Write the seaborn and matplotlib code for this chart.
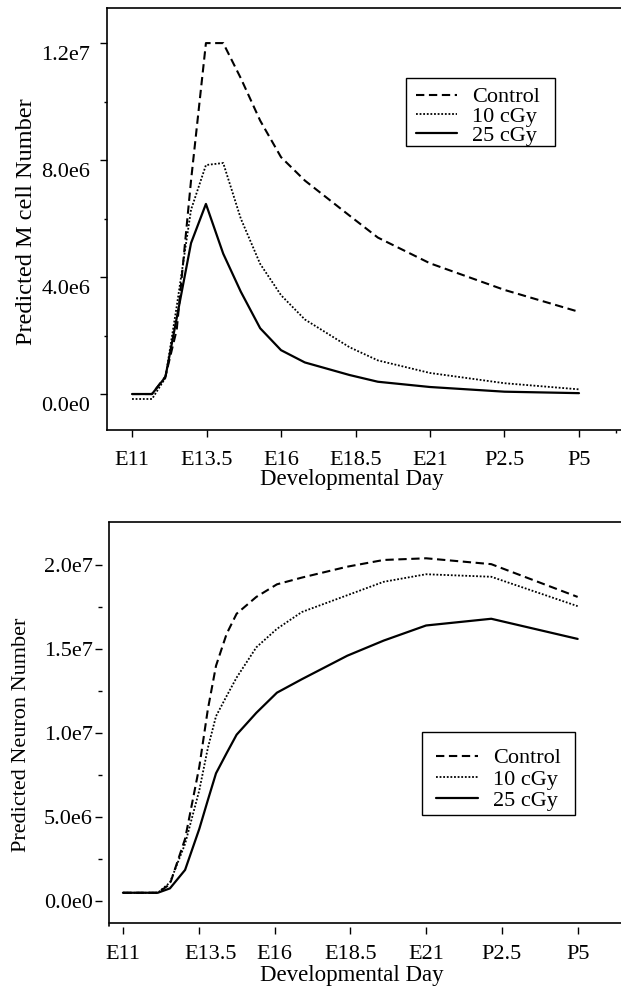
import pandas as pd
import seaborn as sns
import matplotlib.pyplot as plt
from matplotlib.lines import Line2D
from matplotlib.patches import Rectangle
from matplotlib.transforms import ScaledTranslation

# values, in millions of cells
mcell_days = [11, 11.67, 12.12, 12.5, 12.98, 13.48, 14.06, 14.65, 15.3, 16.0, 16.8, 18.3, 19.25, 21.0, 23.5, 26.0]
mcell_control = [0, 0, 0.6, 2.2, 7.3, 12.0, 12.0, 10.8, 9.35, 8.1, 7.3, 6.1, 5.35, 4.47, 3.56, 2.81]
mcell_10cgy = [-0.17, -0.17, 0.55, 3.0, 6.3, 7.83, 7.9, 6.0, 4.45, 3.38, 2.55, 1.6, 1.15, 0.72, 0.37, 0.16]
mcell_25cgy = [0, 0, 0.58, 2.6, 5.16, 6.5, 4.8, 3.5, 2.25, 1.5, 1.08, 0.65, 0.42, 0.24, 0.08, 0.03]

neuron_days = [11, 12.15, 12.55, 13.05, 13.52, 13.8, 14.07, 14.42, 14.75, 15.4, 16.08, 16.9, 18.4, 19.6, 21.0, 23.15, 26.0]
neuron_control = [0.49, 0.49, 1.0, 3.7, 8.0, 11.4, 14.0, 15.9, 17.1, 18.1, 18.85, 19.25, 19.9, 20.3, 20.4, 20.05, 18.1]
neuron_10cgy = [0.49, 0.49, 1.1, 3.4, 6.6, 9.1, 11.0, 12.2, 13.3, 15.1, 16.2, 17.2, 18.2, 19.0, 19.45, 19.3, 17.55]
neuron_25cgy = [0.49, 0.49, 0.75, 1.85, 4.3, 6.0, 7.6, 8.8, 9.9, 11.2, 12.4, 13.2, 14.6, 15.5, 16.4, 16.8, 15.6]

day_ticks = [11, 13.5, 16, 18.5, 21, 23.5, 26]
day_labels = ['E11', 'E13.5', 'E16', 'E18.5', 'E21', 'P2.5', 'P5']
groups = ['Control', '10 cGy', '25 cGy']

sns.set_style('ticks')
plt.rcParams.update({
    'font.family': ['Liberation Serif', 'DejaVu Serif'],
    'axes.edgecolor': 'black',
    'axes.linewidth': 1.2,
    'xtick.color': 'black',
    'ytick.color': 'black',
    'text.color': 'black',
    'axes.labelcolor': 'black',
})

styles = {
    'Control': dict(linestyle=(0, (4, 2.2)), linewidth=1.5),
    '10 cGy': dict(linestyle=(0, (1, 1)), linewidth=1.3),
    '25 cGy': dict(linestyle='-', linewidth=1.6),
}


def draw_panel(ax, days, series):
    for g, vals in zip(groups, series):
        df = pd.DataFrame({'day': days, 'value': [v * 1e6 for v in vals]})
        sns.lineplot(data=df, x='day', y='value', ax=ax, color='black',
                     estimator=None, label=g, **styles[g])


fig = plt.figure(figsize=(6.21, 9.96), dpi=100)
W, H = 621, 996
ax1 = fig.add_axes([107 / W, 1 - 430 / H, 514 / W, 422 / H])
ax2 = fig.add_axes([109 / W, 1 - 923 / H, 512 / W, 401 / H])


def legend_box(x0, y0, x1, y1):
    # frame drawn by hand so the padding can differ per side, as in the original
    fig.add_artist(Rectangle((x0 / W, 1 - y1 / H), (x1 - x0) / W, (y1 - y0) / H,
                             transform=fig.transFigure, fill=False,
                             edgecolor='black', linewidth=1.0))


# ---- top: M cells
draw_panel(ax1, mcell_days, [mcell_control, mcell_10cgy, mcell_25cgy])
ax1.set_xlim(10.16, 27.41)
ax1.set_ylim(-1.23e6, 13.2e6)
ax1.set_yticks([0, 4e6, 8e6, 12e6], labels=['0.0e0', '4.0e6', '8.0e6', '1.2e7'])
ax1.set_yticks([2e6, 6e6, 10e6], minor=True)
ax1.set_xticks(day_ticks, labels=day_labels)
ax1.set_xticks([27.25], minor=True)
ax1.spines['right'].set_visible(False)
ax1.tick_params(axis='both', which='major', direction='out', length=5, width=1, labelsize=16)
ax1.tick_params(axis='y', which='major', pad=7)
ax1.tick_params(axis='x', which='major', pad=10)
ax1.tick_params(which='minor', direction='out', length=2.5, width=1)
shift = ScaledTranslation(0, -10 / 100, fig.dpi_scale_trans)
for lab in ax1.get_yticklabels():
    lab.set_transform(lab.get_transform() + shift)
ax1.set_ylabel('Predicted M cell Number', fontsize=17.5, va='center', ha='center')
ax1.yaxis.set_label_coords(-0.156, 0.493)
ax1.set_xlabel('Developmental Day', fontsize=16.5, va='center', ha='center')
ax1.xaxis.set_label_coords(0.477, -0.117)
ax1.legend(loc='upper left', bbox_to_anchor=(0.6012, 0.8133), borderaxespad=0,
           frameon=False, fontsize=16, handlelength=1.85, handletextpad=0.68,
           labelspacing=-0.06, borderpad=0)
legend_box(406, 78, 555, 146)

# ---- bottom: neurons
draw_panel(ax2, neuron_days, [neuron_control, neuron_10cgy, neuron_25cgy])
ax2.set_xlim(10.54, 27.43)
ax2.set_ylim(-1.31e6, 22.56e6)
ax2.set_yticks([0, 5e6, 1e7, 1.5e7, 2e7], labels=['0.0e0', '5.0e6', '1.0e7', '1.5e7', '2.0e7'])
ax2.set_yticks([2.5e6, 7.5e6, 12.5e6, 17.5e6], minor=True)
ax2.set_xticks(day_ticks, labels=day_labels)
ax2.spines['right'].set_visible(False)
# ticks sit a little away from the frame in this panel
ax2.spines['left'].set_position(('outward', 5))
ax2.spines['bottom'].set_position(('outward', 3))
ax2.spines['left'].set_visible(False)
ax2.spines['bottom'].set_visible(False)
ax2.add_artist(Line2D([0, 0], [-0.008, 1], transform=ax2.transAxes, color='black',
                      linewidth=1.2, clip_on=False))
ax2.add_artist(Line2D([0, 1], [0, 0], transform=ax2.transAxes, color='black',
                      linewidth=1.2, clip_on=False))
ax2.tick_params(axis='both', which='major', direction='out', length=5, width=1, labelsize=16)
ax2.tick_params(axis='y', which='major', pad=1.5)
ax2.tick_params(axis='x', which='major', pad=8)
ax2.tick_params(which='minor', direction='out', length=3, width=1)
nudge = ScaledTranslation(12 / 100, 0, fig.dpi_scale_trans)
lab = ax2.get_xticklabels()[1]
lab.set_transform(lab.get_transform() + nudge)
ax2.set_ylabel('Predicted Neuron Number', fontsize=16, va='center', ha='center')
ax2.yaxis.set_label_coords(-0.17, 0.47)
ax2.set_xlabel('Developmental Day', fontsize=16.5, va='center', ha='center')
ax2.xaxis.set_label_coords(0.4746, -0.13)
ax2.legend(loc='upper left', bbox_to_anchor=(0.6387, 0.4369), borderaxespad=0,
           frameon=False, fontsize=16, handlelength=1.9, handletextpad=0.68,
           labelspacing=0.03, borderpad=0)
legend_box(422, 732, 575, 815)

plt.savefig('out.png', dpi=100)
plt.close()
